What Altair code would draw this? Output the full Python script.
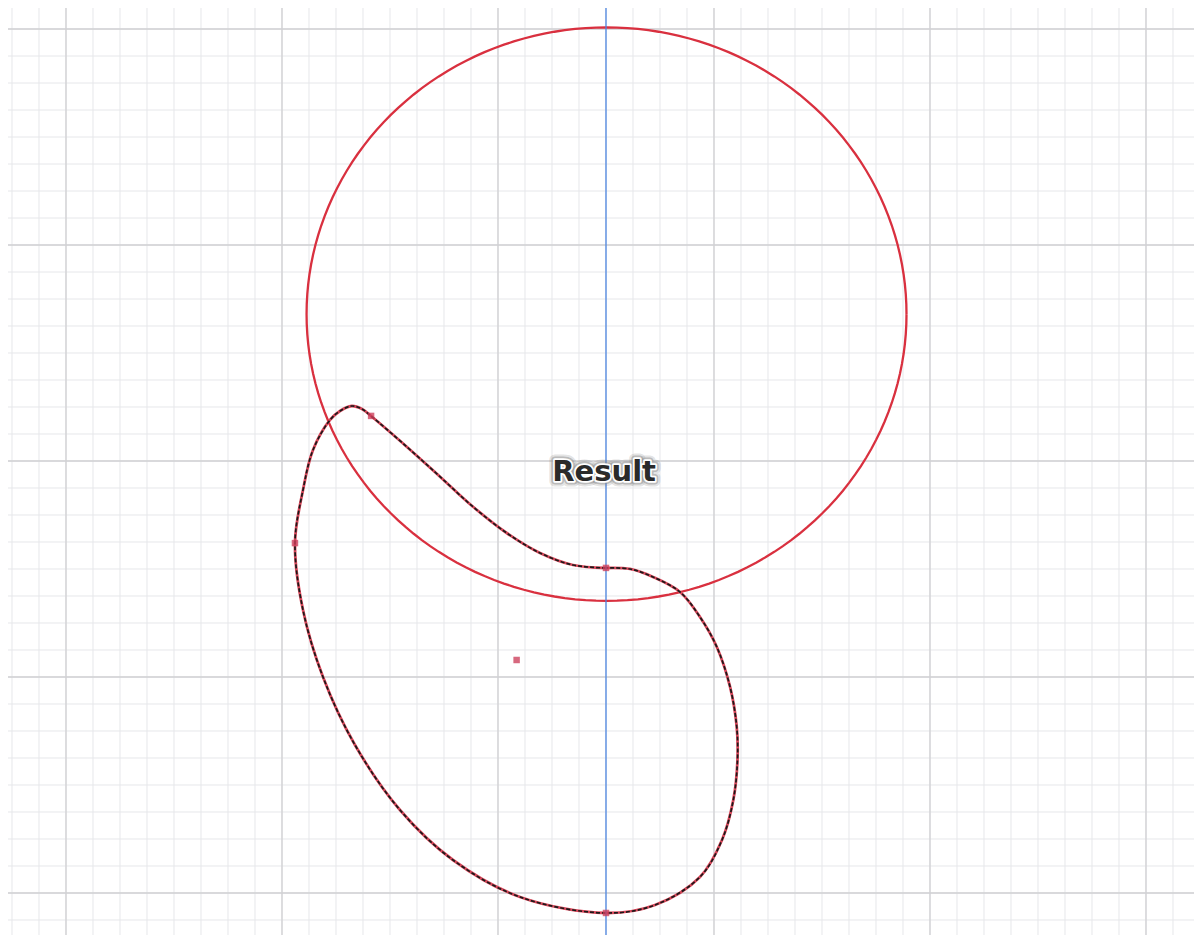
import altair as alt
import pandas as pd

# ---- grid (units: one minor grid cell) ----
x_minor = list(range(-18, 26))
y_minor = list(range(-17, 17))
x_major = [-16, -8, 0, 8, 16, 24]
y_major = [-16, -8, 0, 8, 16]

# ---- vertical blue axis ----
axis_x = [4.0]

# ---- red circle (ellipse) ----
circle_cx, circle_cy = 4.02, 5.44
circle_rx, circle_ry = 11.11, 10.62

# ---- closed curve (traced; first point repeated at the end) ----
curve_x = [4.0, 2.778, 1.556, 0.322, -0.926, -2.148, -3.381, -4.704, -5.037, -5.419,
           -5.852, -6.222, -6.852, -7.222, -7.519, -7.222, -6.481, -5.296, -3.630, -1.667,
           0.815, 4.0, 5.815, 7.481, 8.296, 8.715, 8.870, 8.841, 8.593, 8.100,
           7.481, 6.741, 5.741, 4.889, 4.0]
curve_y = [-3.963, -3.852, -3.407, -2.667, -1.693, -0.581, 0.530, 1.667, 1.926, 2.037,
           1.852, 1.519, 0.407, -1.074, -3.037, -5.519, -8.0, -10.519, -12.926, -14.778,
           -16.148, -16.741, -16.444, -15.407, -14.037, -12.556, -11.074, -9.841, -8.359, -6.878,
           -5.778, -4.852, -4.296, -4.0, -3.963]

# ---- marked points ----
marker_x = [-4.70, -7.52, 4.0, 4.0, 0.69]
marker_y = [1.67, -3.04, -3.96, -16.74, -7.37]

# ---- label ----
label_text = ["Result"]
label_x = [3.93]
label_y = [-0.41]

X = alt.Scale(domain=[-18.148, 25.778], nice=False, zero=False)
Y = alt.Scale(domain=[-17.556, 16.778], nice=False, zero=False)

def xe(f):
    return alt.X(f, type="quantitative", scale=X, axis=None)

def ye(f):
    return alt.Y(f, type="quantitative", scale=Y, axis=None)

minor_v = alt.Chart(pd.DataFrame({"v": x_minor})).mark_rule(
    color="#e6e7ea", strokeWidth=1).encode(x=xe("v"))
minor_h = alt.Chart(pd.DataFrame({"v": y_minor})).mark_rule(
    color="#e6e7ea", strokeWidth=1).encode(y=ye("v"))
major_v = alt.Chart(pd.DataFrame({"v": x_major})).mark_rule(
    color="#d0d0d3", strokeWidth=1.3).encode(x=xe("v"))
major_h = alt.Chart(pd.DataFrame({"v": y_major})).mark_rule(
    color="#d0d0d3", strokeWidth=1.3).encode(y=ye("v"))

ellipse = alt.Chart(alt.sequence(0, 361, 2, as_="t")).transform_calculate(
    ex=f"{circle_cx} + {circle_rx} * cos(datum.t * PI / 180)",
    ey=f"{circle_cy} + {circle_ry} * sin(datum.t * PI / 180)",
).mark_line(color="#d9303f", strokeWidth=2.3).encode(
    x=xe("ex"), y=ye("ey"), order=alt.Order("t:Q"))

curve_df = pd.DataFrame({"x": curve_x, "y": curve_y, "i": list(range(len(curve_x)))})
curve_red = alt.Chart(curve_df).mark_line(
    color="#d9475a", strokeWidth=2.8, interpolate="catmull-rom").encode(
    x=xe("x"), y=ye("y"), order=alt.Order("i:Q"))
curve_black = alt.Chart(curve_df).mark_line(
    color="#1a1a1a", strokeWidth=1.7, strokeDash=[4, 2], interpolate="catmull-rom").encode(
    x=xe("x"), y=ye("y"), order=alt.Order("i:Q"))

blue = alt.Chart(pd.DataFrame({"v": axis_x})).mark_rule(
    color="#4d86e0", strokeWidth=1.3).encode(x=xe("v"))

markers = alt.Chart(pd.DataFrame({"x": marker_x, "y": marker_y})).mark_square(
    color="#cc3d5a", size=42, opacity=0.78).encode(x=xe("x"), y=ye("y"))

lab_df = pd.DataFrame({"t": label_text, "x": label_x, "y": label_y})
lab_halo = alt.Chart(lab_df).mark_text(
    font="DejaVu Sans", fontWeight="bold", fontSize=29, align="center", baseline="middle",
    color="#666666", stroke="#666666", strokeWidth=11, strokeOpacity=0.3, opacity=0.6,
    strokeJoin="round").encode(x=xe("x"), y=ye("y"), text="t:N")
lab_halo2 = alt.Chart(lab_df).mark_text(
    font="DejaVu Sans", fontWeight="bold", fontSize=29, align="center", baseline="middle",
    color="#777777", stroke="#888888", strokeWidth=7, strokeOpacity=0.45,
    strokeJoin="round").encode(x=xe("x"), y=ye("y"), text="t:N")
lab_white = alt.Chart(lab_df).mark_text(
    font="DejaVu Sans", fontWeight="bold", fontSize=29, align="center", baseline="middle",
    color="white", stroke="white", strokeWidth=3.5, strokeJoin="round").encode(
    x=xe("x"), y=ye("y"), text="t:N")
lab = alt.Chart(lab_df).mark_text(
    font="DejaVu Sans", fontWeight="bold", fontSize=29, align="center", baseline="middle",
    color="#2a2a2a").encode(x=xe("x"), y=ye("y"), text="t:N")

chart = alt.layer(
    minor_v, minor_h, major_v, major_h, ellipse, curve_red, curve_black, blue,
    markers, lab_halo, lab_halo2, lab_white, lab
).properties(
    width=1186, height=927, padding=0, autosize=alt.AutoSizeParams(type="none"),
    background="white"
).configure_view(stroke=None)

chart.save("out.html", embed_options={"renderer": "svg", "actions": False})
